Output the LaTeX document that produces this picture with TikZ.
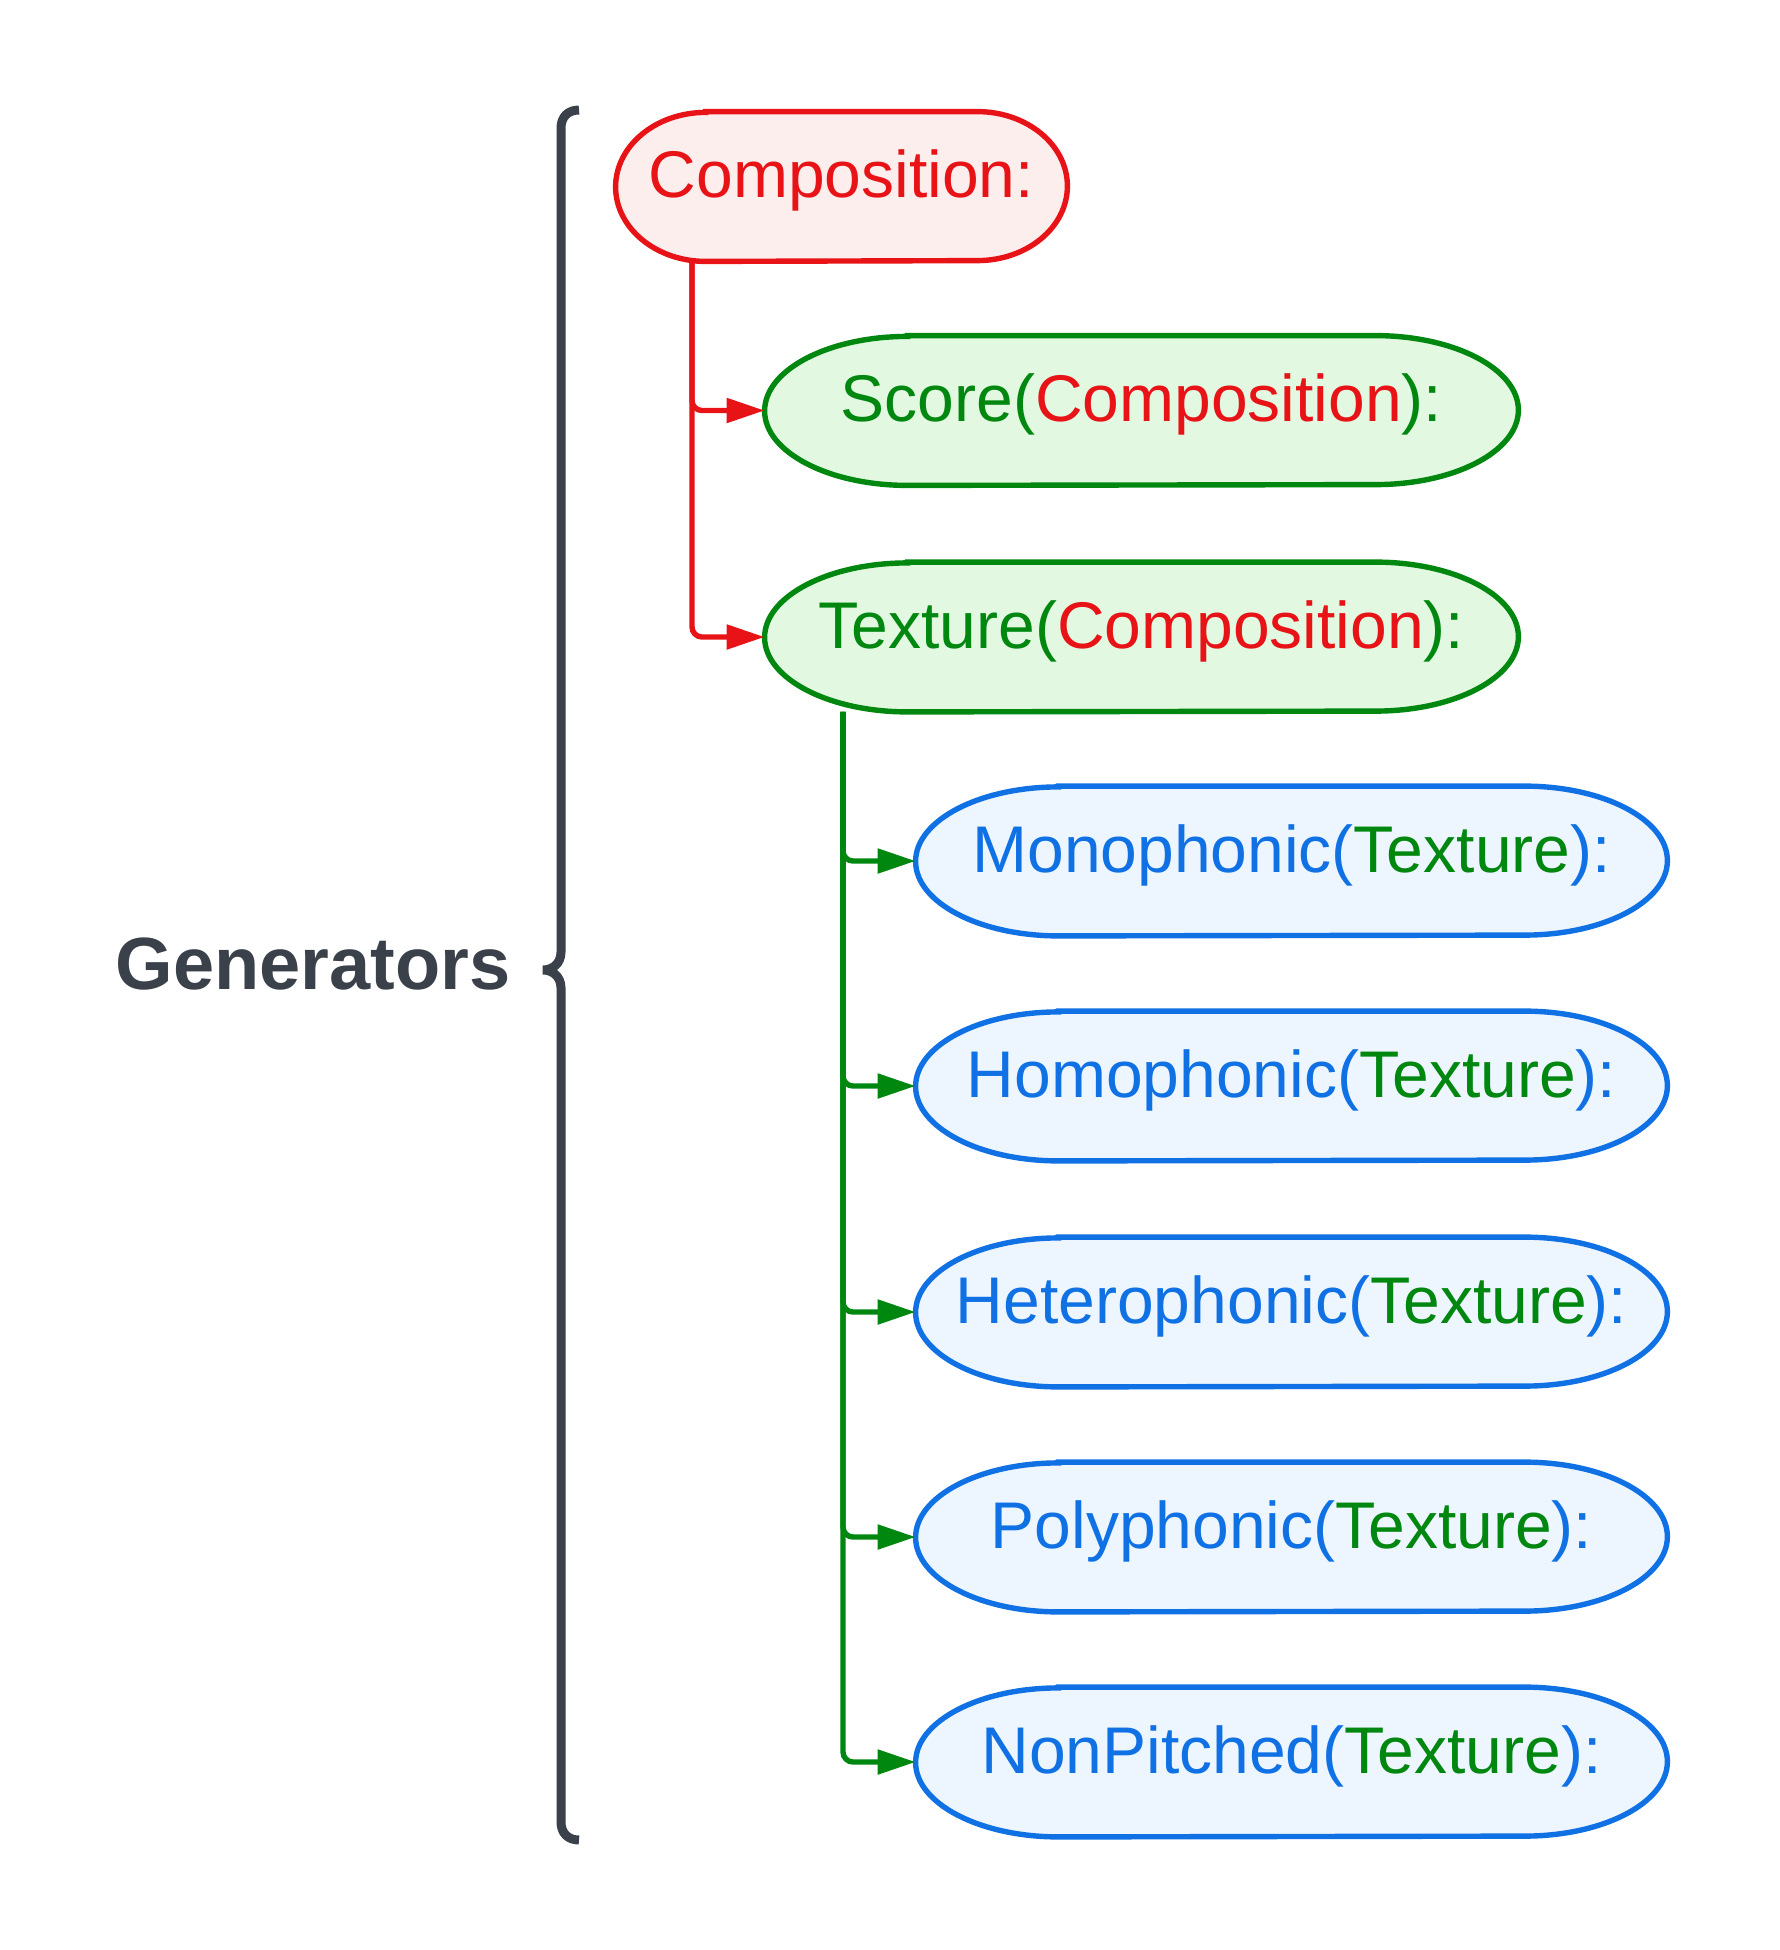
\documentclass[tikz,border=0pt]{standalone}
\usepackage{fontspec}
\setmainfont{Liberation Sans}
\usetikzlibrary{arrows.meta,calc}
\pgfdeclarelayer{background}
\pgfsetlayers{background,main}
\definecolor{cred}{HTML}{E81317}
\definecolor{credfill}{HTML}{FDEEEE}
\definecolor{cgreen}{HTML}{00870F}
\definecolor{cgreenfill}{HTML}{E2F8E1}
\definecolor{cblue}{HTML}{1071E5}
\definecolor{cbluefill}{HTML}{EDF5FE}
\definecolor{cgray}{HTML}{3A414A}
\newcommand\pillpath[3]{%
  \begin{pgfonlayer}{background}
  \path[#3] ($(#1.north west)+(#2,0pt)$) -- ($(#1.north east)+(-#2,0pt)$)
    arc[start angle=90,end angle=-90,x radius=#2,y radius=37.25pt]
    -- ($(#1.south west)+(#2,0pt)$)
    arc[start angle=270,end angle=90,x radius=#2,y radius=37.25pt] -- cycle;
  \end{pgfonlayer}}
\tikzset{
  txt/.style={inner sep=0pt, minimum height=74.5pt, text height=24pt, text depth=13pt, font=\fontsize{33}{40}\selectfont},
  redpill/.style={draw=cred, fill=credfill, line width=2.7pt},
  greenpill/.style={draw=cgreen, fill=cgreenfill, line width=2.7pt},
  bluepill/.style={draw=cblue, fill=cbluefill, line width=2.7pt},
  redarrow/.style={draw=cred, line width=2.7pt, rounded corners=5pt, -{Triangle[length=19pt,width=12pt]}},
  greenarrow/.style={draw=cgreen, line width=2.7pt, rounded corners=5pt, -{Triangle[length=19pt,width=12pt]}},
  bracestyle/.style={draw=cgray, line width=4.5pt}
}
\begin{document}
\begin{tikzpicture}[x=0.5pt,y=-0.5pt]
\useasboundingbox (0,0) rectangle (1779,1950);
% nodes
\node[txt, minimum width=225.5pt] (comp) at (841.5,186.5) {\color{cred}Composition:};
\node[txt, minimum width=376.5pt] (score) at (1141.5,410.5) {\color{cgreen}Score(\color{cred}Composition\color{cgreen}):};
\node[txt, minimum width=376.5pt] (texture) at (1141.5,637) {\color{cgreen}Texture(\color{cred}Composition\color{cgreen}):};
\node[txt, minimum width=375.5pt] (mono) at (1291.5,861) {\color{cblue}Monophonic(\color{cgreen}Texture\color{cblue}):};
\node[txt, minimum width=375.5pt] (homo) at (1291.5,1086) {\color{cblue}Homophonic(\color{cgreen}Texture\color{cblue}):};
\node[txt, minimum width=375.5pt] (hetero) at (1291.5,1312) {\color{cblue}Heterophonic(\color{cgreen}Texture\color{cblue}):};
\node[txt, minimum width=375.5pt] (poly) at (1291.5,1537) {\color{cblue}Polyphonic(\color{cgreen}Texture\color{cblue}):};
\node[txt, minimum width=375.5pt] (nonp) at (1291.5,1762) {\color{cblue}NonPitched(\color{cgreen}Texture\color{cblue}):};
\pillpath{comp}{45pt}{redpill}
\pillpath{score}{71.5pt}{greenpill}
\pillpath{texture}{71.5pt}{greenpill}
\pillpath{mono}{71.5pt}{bluepill}
\pillpath{homo}{71.5pt}{bluepill}
\pillpath{hetero}{71.5pt}{bluepill}
\pillpath{poly}{71.5pt}{bluepill}
\pillpath{nonp}{71.5pt}{bluepill}
% connectors
\coordinate (rv) at (692,0);
\coordinate (gv) at (843,0);
\draw[redarrow] (comp.south -| rv) |- (score.west);
\draw[redarrow] (comp.south -| rv) |- (texture.west);
\draw[greenarrow] (texture.south -| gv) |- (mono.west);
\draw[greenarrow] (texture.south -| gv) |- (homo.west);
\draw[greenarrow] (texture.south -| gv) |- (hetero.west);
\draw[greenarrow] (texture.south -| gv) |- (poly.west);
\draw[greenarrow] (texture.south -| gv) |- (nonp.west);
% brace
\draw[bracestyle] (579,110) .. controls (568,110) and (561,117) .. (561,128)
  -- (561,952) .. controls (561,964) and (552,970) .. (543,970)
  .. controls (552,970) and (561,976) .. (561,988)
  -- (561,1822) .. controls (561,1833) and (568,1840) .. (579,1840);
\node[font=\fontsize{37}{44}\selectfont\bfseries, text=cgray, inner sep=0pt] (gen) at (313,964) {Generators};
\end{tikzpicture}
\end{document}
